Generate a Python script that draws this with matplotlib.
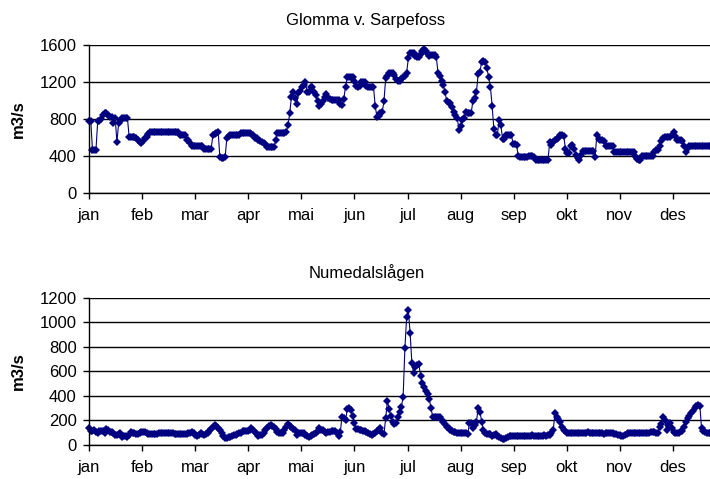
import numpy as np
import matplotlib
matplotlib.use("Agg")
import matplotlib.pyplot as plt

months = ["jan", "feb", "mar", "apr", "mai", "jun", "jul", "aug", "sep", "okt", "nov", "des"]

glomma = [
    780, 780, 465, 465, 470, 780, 780, 800, 840, 860,
    860, 840, 820, 820, 760, 810, 550, 760, 780, 815,
    815, 815, 815, 605, 605, 605, 605, 590, 570, 550,
    545, 560, 590, 610, 640, 655, 655, 655, 655, 655,
    655, 655, 655, 655, 655, 655, 655, 655, 655, 655,
    655, 655, 630, 630, 630, 630, 575, 575, 540, 505,
    505, 505, 505, 505, 505, 505, 480, 480, 480, 480,
    480, 625, 640, 645, 660, 385, 380, 380, 385, 600,
    615, 625, 625, 625, 625, 625, 625, 645, 650, 650,
    650, 650, 650, 635, 630, 600, 590, 575, 560, 550,
    545, 530, 500, 500, 500, 500, 500, 570, 650, 650,
    650, 650, 650, 660, 730, 860, 1040, 1090, 1030, 960,
    1080, 1100, 1150, 1170, 1200, 1090, 1090, 1150, 1150, 1090,
    1060, 990, 945, 960, 1000, 1040, 1070, 1030, 1020, 1010,
    1010, 1010, 1010, 1010, 960, 955, 1020, 1150, 1250, 1250,
    1250, 1250, 1210, 1160, 1150, 1160, 1200, 1200, 1200, 1160,
    1150, 1150, 1150, 1150, 940, 820, 835, 860, 875, 990,
    1240, 1265, 1300, 1300, 1300, 1280, 1230, 1210, 1210, 1230,
    1250, 1260, 1300, 1460, 1510, 1510, 1510, 1480, 1470, 1470,
    1500, 1530, 1555, 1530, 1500, 1480, 1490, 1495, 1495, 1470,
    1300, 1260, 1210, 1170, 1090, 990, 975, 970, 935, 880,
    845, 810, 685, 720, 790, 810, 880, 865, 860, 865,
    1000, 1030, 1090, 1290, 1310, 1420, 1425, 1420, 1350, 1250,
    1150, 940, 690, 630, 630, 790, 730, 585, 580, 630,
    630, 630, 630, 535, 525, 520, 395, 390, 390, 390,
    390, 390, 400, 400, 400, 390, 360, 360, 360, 360,
    360, 360, 360, 360, 550, 515, 555, 575, 580, 600,
    630, 630, 620, 480, 435, 430, 510, 520, 475, 415,
    380, 360, 410, 450, 450, 450, 450, 450, 450, 450,
    390, 630, 580, 570, 570, 560, 505, 505, 505, 505,
    505, 440, 440, 440, 440, 440, 440, 440, 440, 440,
    440, 440, 440, 400, 365, 360, 360, 395, 395, 395,
    395, 395, 395, 395, 440, 465, 470, 510, 560, 600,
    605, 605, 605, 605, 630, 655, 615, 570, 570, 570,
    560, 510, 440, 490, 505, 505, 505, 505, 505, 505,
    505, 505, 505, 505, 505, 505, 505, 505, 505, 505,
    505, 505, 505, 505, 505,
]

numedal = [
    135, 110, 115, 122, 105, 100, 117, 117, 110, 95,
    128, 120, 109, 105, 100, 85, 81, 90, 95, 68,
    70, 73, 62, 80, 109, 100, 95, 92, 90, 100,
    105, 109, 105, 100, 92, 90, 90, 90, 90, 92,
    95, 95, 95, 95, 95, 95, 95, 95, 95, 92,
    90, 90, 90, 90, 90, 90, 90, 95, 100, 109,
    100, 85, 70, 85, 100, 90, 81, 90, 95, 110,
    128, 150, 163, 155, 140, 120, 100, 75, 60, 54,
    62, 68, 75, 81, 85, 90, 95, 100, 110, 117,
    117, 117, 125, 136, 120, 109, 90, 73, 78, 81,
    100, 122, 140, 155, 163, 158, 149, 130, 109, 100,
    95, 100, 120, 150, 171, 155, 144, 130, 122, 81,
    95, 97, 100, 95, 81, 72, 62, 70, 81, 90,
    100, 118, 136, 125, 120, 105, 100, 105, 109, 117,
    117, 117, 95, 73, 109, 231, 217, 204, 290, 299,
    285, 236, 182, 128, 128, 125, 120, 117, 117, 105,
    100, 90, 81, 88, 95, 110, 122, 136, 100, 90,
    217, 361, 291, 236, 190, 171, 182, 231, 272, 312,
    394, 787, 1040, 1100, 910, 671, 584, 638, 652, 660,
    562, 502, 475, 443, 415, 372, 299, 225, 231, 231,
    231, 231, 204, 185, 171, 150, 140, 122, 115, 109,
    105, 100, 100, 100, 100, 100, 100, 90, 176, 176,
    136, 163, 190, 299, 272, 190, 122, 100, 90, 90,
    90, 73, 80, 90, 75, 68, 55, 46, 50, 54,
    65, 73, 73, 75, 73, 70, 72, 75, 75, 73,
    73, 70, 72, 75, 78, 75, 73, 70, 72, 73,
    75, 78, 75, 80, 85, 95, 122, 258, 231, 210,
    190, 150, 122, 110, 100, 100, 98, 98, 100, 100,
    100, 98, 95, 98, 100, 100, 102, 100, 98, 98,
    100, 98, 95, 95, 95, 92, 95, 95, 98, 95,
    95, 92, 90, 85, 80, 72, 70, 78, 88, 95,
    95, 95, 95, 98, 95, 95, 95, 98, 100, 100,
    98, 100, 105, 109, 105, 100, 100, 150, 171, 231,
    204, 122, 163, 182, 136, 109, 100, 100, 100, 117,
    117, 150, 190, 217, 235, 258, 280, 299, 315, 326,
    320, 136, 117, 105, 100, 100, 100, 100, 100, 100,
    100, 100, 100, 100, 100,
]

titles = ["Glomma v. Sarpefoss", "Numedalslågen"]
ylabel = "m3/s"

plt.rcParams['font.family'] = ['Liberation Sans', 'DejaVu Sans']

W, H = 710, 479
fig = plt.figure(figsize=(W / 100, H / 100), dpi=100)

NAVY = "#000080"
ndays = len(glomma)
days = np.arange(ndays)
tick_pos = np.arange(12) * ndays / 12.0

left = 89 / W
width = 637 / W

def setup(ax, ymax, ystep):
    ax.set_xlim(0, ndays)
    ax.set_ylim(0, ymax)
    ax.set_yticks(np.arange(0, ymax + 1, ystep))
    ax.set_xticks(tick_pos)
    ax.set_xticklabels(months)
    ax.yaxis.grid(True, color="black", linewidth=1.0)
    ax.set_axisbelow(True)
    for s in ["top", "right"]:
        ax.spines[s].set_visible(False)
    for s in ["left", "bottom"]:
        ax.spines[s].set_color("black")
        ax.spines[s].set_linewidth(1.0)
    ax.tick_params(axis="both", direction="out", length=4, width=1,
                   color="black", labelsize=12)
    ax.tick_params(axis="x", pad=7)
    ax.tick_params(axis="y", pad=5)

ax1 = fig.add_axes([left, 1 - 193 / H, width, (193 - 45) / H])
ax1.plot(days, glomma, color=NAVY, linewidth=0.8, marker="D",
         markersize=4, markeredgewidth=0, clip_on=False)
setup(ax1, 1600, 400)

ax2 = fig.add_axes([left, 1 - 445 / H, width, (445 - 297.7) / H])
ax2.plot(days, numedal, color=NAVY, linewidth=0.8, marker="D",
         markersize=4, markeredgewidth=0, clip_on=False)
setup(ax2, 1200, 200)

fig.text(366 / W, 1 - 25 / H, titles[0], ha="center", va="baseline", fontsize=12)
fig.text(367 / W, 1 - 278 / H, titles[1], ha="center", va="baseline", fontsize=12)
fig.text(18 / W, 1 - 119 / H, ylabel, rotation=90, ha="center", va="center",
         fontsize=12, fontweight="bold")
fig.text(18 / W, 1 - 371 / H, ylabel, rotation=90, ha="center", va="center",
         fontsize=12, fontweight="bold")

fig.savefig("out.png", dpi=100)
